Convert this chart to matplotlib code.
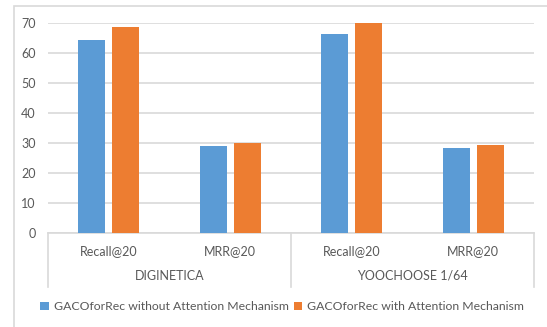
import matplotlib.pyplot as plt
from matplotlib.patches import Rectangle
import numpy as np

metrics = ["Recall@20", "MRR@20", "Recall@20", "MRR@20"]
datasets = ["DIGINETICA", "YOOCHOOSE 1/64"]
without_att = [64.3, 29.0, 66.2, 28.2]
with_att = [68.7, 29.9, 69.9, 29.2]

blue = "#5B9BD5"
orange = "#ED7D31"
grid_c = "#D9D9D9"
text_c = "#595959"

plt.rcParams['font.family'] = ['Lato', 'DejaVu Sans']

fig = plt.figure(figsize=(5.47, 3.27), dpi=100)
# outer chart border
fig.patches.append(Rectangle((14/547, -0.05), 1.0, 1 - 6/327 + 0.05, transform=fig.transFigure,
                             fill=False, edgecolor=grid_c, lw=1.2))
ax = fig.add_axes([48/547, 1 - 233/327, 486/547, 210/327])

x = np.arange(len(metrics))
w = 0.222
off = 0.14
ax.bar(x - off, without_att, w, color=blue, label="GACOforRec without Attention Mechanism", zorder=3)
ax.bar(x + off, with_att, w, color=orange, label="GACOforRec with Attention Mechanism", zorder=3)

ax.set_xlim(-0.5, 3.5)
ax.set_ylim(0, 70)
ax.set_yticks(range(0, 71, 10))
ax.yaxis.grid(True, color=grid_c, lw=1.2, zorder=0)
ax.set_axisbelow(True)
for s in ["top", "right", "left"]:
    ax.spines[s].set_visible(False)
ax.spines["bottom"].set_color(grid_c)
ax.spines["bottom"].set_linewidth(1.2)
ax.tick_params(axis="y", length=0, pad=9, labelsize=9, labelcolor=text_c)
ax.set_xticks([])

# hierarchical category axis
trans = ax.get_xaxis_transform()
for xs in [-0.5, 1.5, 3.5]:
    ax.plot([xs, xs], [0, -0.257], transform=trans, color=grid_c, lw=1.2, clip_on=False)
for i, m in enumerate(metrics):
    ax.text(i, -0.084, m, transform=trans, ha="center", va="center", fontsize=9, color=text_c)
for j, d in enumerate(datasets):
    ax.text(2 * j + 0.5, -0.203, d, transform=trans, ha="center", va="center", fontsize=9, color=text_c)

fig.legend(loc="center", bbox_to_anchor=(0.516, 0.062), ncol=2, frameon=False,
           fontsize=8.8, labelcolor=text_c, handlelength=0.7, handleheight=0.7,
           handletextpad=0.4, columnspacing=0.4)

fig.savefig("out.png", dpi=100)
